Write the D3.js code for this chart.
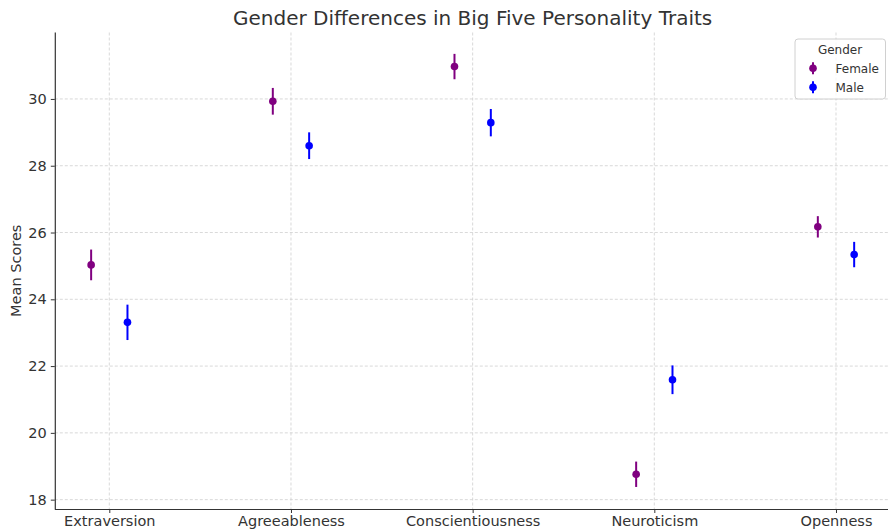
<!DOCTYPE html>
<html>
<head>
<meta charset="utf-8">
<script src="https://cdn.jsdelivr.net/npm/d3@7"></script>
<style>
  html, body { margin: 0; padding: 0; background: #fff; }
  svg { display: block; font-family: "DejaVu Sans", sans-serif; }
</style>
</head>
<body>
<svg id="chart" width="888" height="530"></svg>
<script>
const categories = ["Extraversion", "Agreeableness", "Conscientiousness", "Neuroticism", "Openness"];
const femaleMeans = [25.03, 29.93, 30.97, 18.76, 26.17];
const femaleErr   = [0.46, 0.40, 0.38, 0.38, 0.32];
const maleMeans   = [23.31, 28.60, 29.29, 21.59, 25.34];
const maleErr     = [0.53, 0.40, 0.41, 0.43, 0.38];
const yTicks = [18, 20, 22, 24, 26, 28, 30];
const groups = ["Female", "Male"];
const groupColors = ["#800080", "#0000ff"];
const groupOffsets = [-0.1, 0.1];

(function () {
const series = [
  { name: groups[0], color: groupColors[0], offset: groupOffsets[0], means: femaleMeans, errs: femaleErr },
  { name: groups[1], color: groupColors[1], offset: groupOffsets[1], means: maleMeans, errs: maleErr }
];

const svg = d3.select("#chart");
const pLeft = 54.8, pRight = 890.5, pTop = 32.5, pBottom = 509;

const x = d3.scaleLinear().domain([-0.3, 4.3]).range([pLeft, pRight]);
const y = d3.scaleLinear().domain([17.72, 31.99]).range([pBottom, pTop]);

// grid
const grid = svg.append("g");
grid.selectAll("line.h").data(yTicks).join("line").attr("class", "h")
  .attr("x1", pLeft).attr("x2", pRight)
  .attr("y1", d => y(d)).attr("y2", d => y(d))
  .attr("stroke", "#cfcfcf").attr("stroke-width", 0.8).attr("stroke-dasharray", "3,2");
grid.selectAll("line.v").data(categories.map((c, i) => i)).join("line").attr("class", "v")
  .attr("x1", d => x(d)).attr("x2", d => x(d))
  .attr("y1", pTop).attr("y2", pBottom)
  .attr("stroke", "#cfcfcf").attr("stroke-width", 0.8).attr("stroke-dasharray", "3,2");

// axes
const xAxis = d3.axisBottom(x).tickValues(categories.map((c, i) => i))
  .tickFormat(i => categories[i]).tickSize(4).tickPadding(3);
const gx = svg.append("g").attr("transform", `translate(0,${pBottom})`).call(xAxis);
const yAxis = d3.axisLeft(y).tickValues(yTicks).tickSize(4).tickPadding(4);
const gy = svg.append("g").attr("transform", `translate(${pLeft},0)`).call(yAxis);

[gx, gy].forEach(g => {
  g.select(".domain").attr("stroke", "#333").attr("stroke-width", 1.2);
  g.selectAll(".tick line").attr("stroke", "#333").attr("stroke-width", 1);
  g.selectAll(".tick text").attr("fill", "#333").style("font-size", "14.5px")
    .style("font-family", "DejaVu Sans, sans-serif");
});
gx.select(".domain").attr("d", `M${pLeft},0.5H888`);
gy.select(".domain").attr("d", `M0.5,${pTop}V${pBottom}`);

// title
svg.append("text").attr("x", (pLeft + pRight) / 2).attr("y", 25)
  .attr("text-anchor", "middle").attr("fill", "#333")
  .style("font-size", "20px").text("Gender Differences in Big Five Personality Traits");

// y label
svg.append("text").attr("transform", `translate(21,${(pTop + pBottom) / 2}) rotate(-90)`)
  .attr("text-anchor", "middle").attr("fill", "#333")
  .style("font-size", "14.5px").text("Mean Scores");

// points with error bars
series.forEach(s => {
  const g = svg.append("g");
  const data = s.means.map((m, i) => ({ i, m, e: s.errs[i] }));
  g.selectAll("line").data(data).join("line")
    .attr("x1", d => x(d.i + s.offset)).attr("x2", d => x(d.i + s.offset))
    .attr("y1", d => y(d.m - d.e)).attr("y2", d => y(d.m + d.e))
    .attr("stroke", s.color).attr("stroke-width", 2);
  g.selectAll("circle").data(data).join("circle")
    .attr("cx", d => x(d.i + s.offset)).attr("cy", d => y(d.m))
    .attr("r", 3.8).attr("fill", s.color);
});

// legend
const lg = svg.append("g");
lg.append("rect").attr("x", 795).attr("y", 39).attr("width", 90.5).attr("height", 60)
  .attr("rx", 3).attr("fill", "#fff").attr("fill-opacity", 0.8)
  .attr("stroke", "#d0d0d0").attr("stroke-width", 1);
lg.append("text").attr("x", 840).attr("y", 53.5).attr("text-anchor", "middle")
  .attr("fill", "#333").style("font-size", "12px").text("Gender");
series.forEach((s, k) => {
  const cy = 68.3 + k * 19;
  lg.append("line").attr("x1", 813).attr("x2", 813).attr("y1", cy - 6).attr("y2", cy + 6)
    .attr("stroke", s.color).attr("stroke-width", 2);
  lg.append("circle").attr("cx", 813).attr("cy", cy).attr("r", 3.8).attr("fill", s.color);
  lg.append("text").attr("x", 835.5).attr("y", cy + 4.3).attr("fill", "#333")
    .style("font-size", "12px").text(s.name);
});
})();
</script>
</body>
</html>
